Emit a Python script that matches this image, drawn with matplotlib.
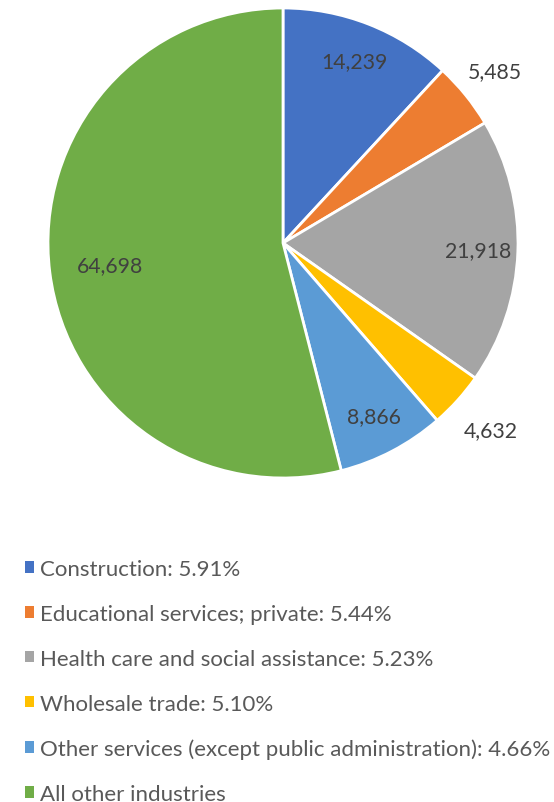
import matplotlib
matplotlib.use("Agg")
import matplotlib.pyplot as plt
import numpy as np

categories = ["Construction", "Educational services; private", "Health care and social assistance",
              "Wholesale trade", "Other services (except public administration)", "All other industries"]
values = [14239, 5485, 21918, 4632, 8866, 64698]
legend_labels = ["Construction: 5.91%", "Educational services; private: 5.44%",
                 "Health care and social assistance: 5.23%", "Wholesale trade: 5.10%",
                 "Other services (except public administration): 4.66%", "All other industries"]
colors = ["#4472C4", "#ED7D31", "#A5A5A5", "#FFC000", "#5B9BD5", "#70AD47"]
label_dist = [0.83, 1.16, 0.83, 1.19, 0.83, 0.74]

plt.rcParams['font.family'] = ['Lato', 'DejaVu Sans']

fig = plt.figure(figsize=(5.54, 8.03), dpi=100)
ax = fig.add_axes([48/554, 324/803, 470/554, 470/803])
wedges, _ = ax.pie(values, colors=colors, startangle=90, counterclock=False, radius=1,
                   wedgeprops=dict(edgecolor="white", linewidth=2.0))
ax.set_xlim(-1, 1)
ax.set_ylim(-1, 1)
ax.set_aspect("equal")
ax.axis("off")

for w, v, d in zip(wedges, values, label_dist):
    ang = np.deg2rad((w.theta1 + w.theta2) / 2)
    ax.text(d * np.cos(ang), d * np.sin(ang), f"{v:,}", ha="center", va="center",
            fontsize=15.3, color="#404040")

leg = fig.legend(wedges, legend_labels, loc="upper left", bbox_to_anchor=(16/554, 1 - 551/803),
                 frameon=False, fontsize=16, handlelength=0.42, handleheight=0.42,
                 handletextpad=0.27, labelspacing=1.12, borderaxespad=0)
for t in leg.get_texts():
    t.set_color("#595959")
for h in leg.legend_handles:
    h.set_edgecolor("none")

fig.savefig("out.png", dpi=100)
